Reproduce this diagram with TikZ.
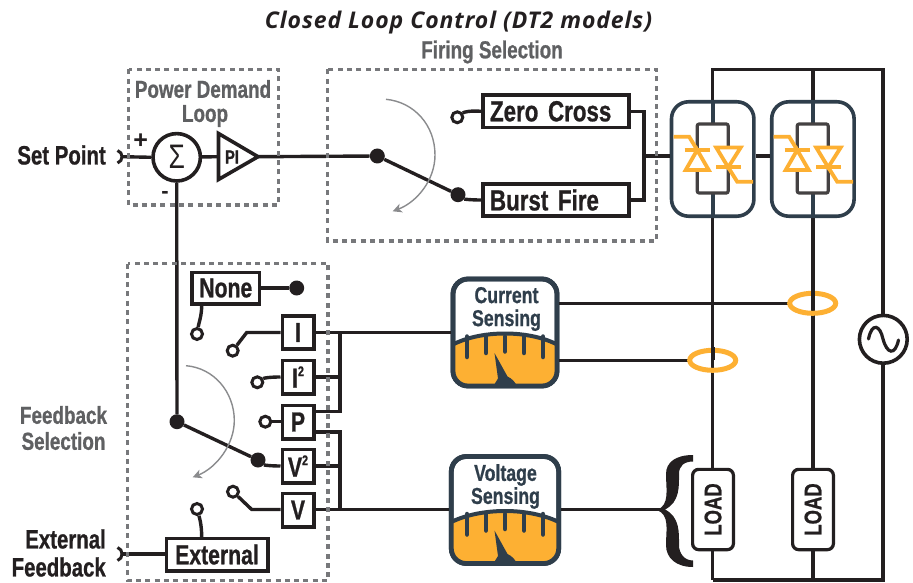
\documentclass[tikz,border=0pt]{standalone}
\usepackage{fontspec}
\usetikzlibrary{arrows.meta}
\setmainfont{Liberation Sans}
\newfontfamily\cond[FakeStretch=0.78,BoldFeatures={FakeStretch=0.77,FakeBold=0.8}]{Liberation Sans}
\newfontfamily\titlefont[LetterSpace=4]{Open Sans}
\definecolor{ink}{HTML}{231F20}
\definecolor{slate}{HTML}{2F3E4B}
\definecolor{amber}{HTML}{FDB033}
\definecolor{dashgray}{HTML}{77787B}
\definecolor{capgray}{HTML}{5F6062}
\definecolor{arcgray}{HTML}{8A8B8D}
\newcommand{\fsz}[1]{\fontsize{#1}{#1}\selectfont}
\newcommand{\meterbody}[4]{% cx cy halfw halfh
\begin{scope}[shift={(#1,#2)}]
\begin{scope}
\clip[rounded corners=15] (-#3,-#4) rectangle (#3,#4);
\fill[amber] (-#3-2,13) .. controls (-25,-3) and (25,-3) .. (#3+2,13) -- (#3+2,#4+2) -- (-#3-2,#4+2) -- cycle;
\draw[slate,line width=4] (-#3-2,13) .. controls (-25,-3) and (25,-3) .. (#3+2,13);
\foreach \tx/\te in {-38/24.5,-19/20.5,0/19,19/20.5,38/24.5} \draw[slate,line width=4.5,line cap=round] (\tx,4) -- (\tx,\te);
\fill[slate] (-10.5,20.5) -- (-7,46) .. controls (-9,49) and (-11,52) .. (-12,56) -- (13,56) .. controls (11,50) and (7,46) .. (2.5,44) -- cycle;
\end{scope}
\draw[slate,line width=4.8,rounded corners=15] (-#3,-#4) rectangle (#3,#4);
\end{scope}}
\tikzset{
 x=1pt,y=-1pt,
 wire/.style={ink,line width=3.4,line join=miter},
 bus/.style={ink,line width=3.8},
 box/.style={draw=ink,line width=3.6,fill=white,inner sep=0pt,text=ink,font=\cond\bfseries\fsz{27.5}},
 termin/.style={circle,draw=ink,line width=3,fill=white,minimum size=11pt,inner sep=0pt},
 dot/.style={circle,fill=ink,minimum size=15pt,inner sep=0pt},
 dashbox/.style={dashgray,line width=3.2,dash pattern=on 5pt off 4.3pt},
 swing/.style={arcgray,line width=1.4,-{Stealth[length=9pt,width=9pt,inset=2.5pt]}},
 caption/.style={text=capgray,font=\cond\bfseries\fsz{24.5},inner sep=0pt,align=center},
 blacktext/.style={text=ink,font=\cond\bfseries\fsz{26.5},inner sep=0pt},
 metertext/.style={text=slate,font=\cond\bfseries\fsz{23},inner sep=0pt,align=center},
 meterframe/.style={draw=slate,line width=4.8,fill=white,rounded corners=15,inner sep=0pt},
 scrframe/.style={draw=slate,line width=3.6,fill=white,rounded corners=17,minimum width=82.4pt,minimum height=114.4pt,inner sep=0pt},
 loadbox/.style={draw=ink,line width=3.2,fill=white,rounded corners=6,minimum width=40.8pt,minimum height=80.3pt,inner sep=0pt},
 triac/.style={amber,line width=3.8,line join=miter},
 ring/.style={amber,line width=5},
}
\begin{document}
\begin{tikzpicture}
\useasboundingbox (0,0) rectangle (913,583);
% title and captions
\node[font=\titlefont\bfseries\itshape\fsz{23},text=ink,inner sep=0pt] (title) at (458.5,23) {Closed Loop Control (DT2 models)};
\node[caption] (capfire) at (492,52) {Firing Selection};
\node[caption] (cappow) at (203,89) {Power Demand};
\node[caption] (caploop) at (205,116) {Loop};
\node[caption] (capfb1) at (63.5,415) {Feedback};
\node[caption] (capfb2) at (63.5,441) {Selection};
\node[blacktext,anchor=east] (setpoint) at (106,155) {Set Point};
\node[blacktext,anchor=east] (extfb1) at (106,539) {External};
\node[blacktext,anchor=east] (extfb2) at (106,567) {Feedback};
% power bus
\coordinate (tl) at (712.5,69.5);
\coordinate (tm) at (812.7,69.5);
\coordinate (tr) at (883.3,69.5);
\coordinate (bl) at (712.5,580);
\coordinate (bm) at (812.7,580);
\coordinate (br) at (883.3,580);
\draw[bus] (bl) -- (tl) -- (tr) -- (br) -- (bl);
\draw[bus] (tm) -- (bm);
% SCR stacks
\node[scrframe] (scra) at (712.7,159) {};
\node[scrframe] (scrb) at (812.9,159) {};
\foreach \c/\n in {712.7/a,812.7/b}{
 \begin{scope}[shift={(\c,0)}]
 \draw[slate,line width=3.6] (0,102) -- (0,124);
 \draw[slate,line width=3.6] (0,193) -- (0,216);
 \draw[ink!85!white,line width=3.2,rounded corners=2] (-15.5,124) rectangle (15.5,193);
 \fill[white] (-15.5,150) -- (-27,170) -- (-4,170) -- cycle;
 \fill[white] (4,147.5) -- (28,147.5) -- (15.5,167) -- cycle;
 \draw[triac] (-39,136.8) -- (-23.5,136.8) -- (-15.5,150);
 \draw[triac] (-28,150) -- (-3,150);
 \draw[triac] (-15.5,150) -- (-27,170) -- (-4,170) -- cycle;
 \draw[triac] (3.5,147.5) -- (28,147.5) -- (15.5,167.3) -- cycle;
 \draw[triac] (3.5,167.3) -- (28,167.3);
 \draw[triac] (15.5,167.3) -- (24.5,181.7) -- (40.5,181.7);
 \end{scope}}
\draw[wire] (scra.east |- 0,156) -- (scrb.west |- 0,156);
% firing selection
\node[box,font=\cond\bfseries\fsz{29},minimum width=146.4pt,minimum height=32.4pt,text width=132pt,align=left] (zero) at (556,111.3) {Zero Cross};
\node[box,font=\cond\bfseries\fsz{29},minimum width=146.4pt,minimum height=32.4pt,text width=132pt,align=left] (burst) at (556,200) {Burst Fire};
\node[termin] (tzero) at (457.3,117.3) {};
\node[dot] (dfire) at (377.3,156) {};
\node[dot] (dburst) at (458,194.7) {};
\draw[wire] (tzero) .. controls (464,112) and (470,110.5) .. (zero.west);
\draw[wire] (dburst) .. controls (464,199) and (470,200) .. (burst.west);
\draw[wire] (dfire) -- (dburst);
\coordinate (fjoin) at (644,156);
\draw[wire] (zero.east) -| (fjoin) |- (burst.east);
\draw[wire] (fjoin) -- (scra.west |- fjoin);
\draw[swing] (386,99.3) .. controls (414,102) and (435,125) .. (435,155) .. controls (435,180) and (417,202) .. (392.7,211.3);
% power demand
\node[circle,draw=ink,line width=3.6,fill=white,minimum size=47.4pt,inner sep=0pt,font=\cond\fsz{34},text=ink] (sum) at (176.7,157.3) {\raisebox{-.5pt}{Σ}};
\coordinate (pitl) at (218.5,133.5);
\coordinate (pibl) at (218.5,179.5);
\coordinate (pitip) at (258,156.7);
\coordinate (piin) at (218.5,156.7);
\draw[wire] (sum) -- (piin);
\fill[white] (pitl) -- (pitip) -- (pibl) -- cycle;
\draw[ink,line width=3.6,line join=miter] (pitl) -- (pitip) -- (pibl) -- cycle;
\node[font=\cond\bfseries\fsz{19},text=ink,inner sep=0pt] (pilab) at (232,157) {PI};
\draw[wire] (pitip) -- (dfire);
\coordinate (spin) at (122,156.7);
\draw[wire] (spin) -- (sum.west);
\draw[ink,line width=3] (117.5,150.5) .. controls (120.5,151.5) and (122,154) .. (122,156.7) .. controls (122,159.5) and (120.5,162) .. (117.5,163);
\node[font=\bfseries\fsz{25},text=ink,inner sep=0pt] (plus) at (140.7,141.5) {+};
\node[font=\bfseries\fsz{22},text=ink,inner sep=0pt] (minus) at (165,195) {-};
% feedback switch
\node[box,minimum width=67.4pt,minimum height=31.4pt] (none) at (225.8,288) {None};
\node[dot] (dnone) at (296.7,288) {};
\draw[wire] (none.east) -- (dnone);
\node[termin] (tnone) at (197,334) {};
\draw[wire] (201.7,305) .. controls (201.7,316) and (199,322) .. (tnone);
\node[box,minimum width=31.4pt,minimum height=33.4pt] (bi) at (298,332.5) {I};
\node[box,minimum width=31.4pt,minimum height=33.4pt] (bii) at (298,377) {I\raisebox{.42em}{\fsz{14}2}};
\node[box,minimum width=31.4pt,minimum height=33.4pt] (bp) at (298,422) {P};
\node[box,minimum width=31.4pt,minimum height=33.4pt] (bvv) at (298,466) {V\raisebox{.42em}{\fsz{14}2}};
\node[box,minimum width=31.4pt,minimum height=33.4pt] (bv) at (298,510) {V};
\node[box,minimum width=101.4pt,minimum height=32.4pt] (ext) at (217,554.5) {External};
\node[termin] (ti) at (232.7,350.7) {};
\node[termin] (tii) at (257.3,382.3) {};
\node[termin] (tp) at (265.3,421.7) {};
\node[termin] (tv) at (233,491.7) {};
\node[termin] (text) at (197,509) {};
\node[dot] (djoin) at (177,421.7) {};
\node[dot] (dvv) at (258,460) {};
\draw[wire] (ti) -- (246.7,332.5) -- (bi.west);
\draw[wire] (tii) .. controls (264,378) and (270,377) .. (bii.west);
\draw[wire] (tp) -- (bp.west |- tp);
\draw[wire] (dvv) .. controls (264,465) and (270,466) .. (bvv.west);
\draw[wire] (tv) -- (251.7,509.5) -- (bv.west |- 0,509.5);
\draw[wire] (text) .. controls (199,516) and (201.7,524) .. (201.7,537);
\draw[wire] (sum.south) -- (djoin);
\draw[wire] (djoin) -- (dvv);
\draw[swing] (186,365.7) .. controls (214,368) and (234,392) .. (234.3,420) .. controls (234.5,445) and (216,468) .. (192.7,477.3);
\coordinate (extin) at (122,554);
\draw[wire] (extin) -- (ext.west |- extin);
\draw[ink,line width=3] (117.5,547.5) .. controls (120.5,548.5) and (122,551) .. (122,554) .. controls (122,557) and (120.5,559.5) .. (117.5,560.5);
% meters
\node[meterframe,minimum width=104pt,minimum height=107pt] (cur) at (505,332.5) {};
\meterbody{505}{332.5}{52}{53.5}
\node[metertext] (curt) at (506.5,309) {\baselineskip=20.5pt Current\\Sensing};
\node[meterframe,minimum width=107.4pt,minimum height=107pt] (vol) at (505,510) {};
\meterbody{505}{510}{53.7}{53.5}
\node[metertext] (volt) at (505.5,486.5) {\baselineskip=20.5pt Voltage\\Sensing};
% bus wires to meters
\coordinate (busi) at (340,332.5);
\coordinate (busib) at (340,411.7);
\coordinate (busv) at (340,509.5);
\coordinate (busvt) at (340,432);
\draw[wire] (bi.east) -- (cur.west |- bi.east);
\draw[wire] (bii.east) -- (bii.east -| busi);
\draw[wire] (busi) -- (busib) -- (busib -| bp.east);
\draw[wire] (bp.east |- busvt) -- (busvt) -- (busv);
\draw[wire] (bvv.east) -- (bvv.east -| busv);
\draw[wire] (bv.east |- busv) -- (vol.west |- busv);
% current sense rings
\node[draw=none,inner sep=0pt] (ringb) at (812.7,303.3) {};
\node[draw=none,inner sep=0pt] (ringa) at (712.7,360.3) {};
\draw[wire] (cur.east |- ringb) -- (790,303.3);
\draw[wire] (cur.east |- ringa) -- (690,360.3);
\draw[ring] (ringb) ellipse [x radius=23,y radius=10];
\draw[ring] (ringa) ellipse [x radius=23,y radius=10];
\draw[bus] (812.7,290) -- (ringb);
\draw[bus] (712.7,347) -- (ringa);
% source
\node[circle,draw=ink,line width=3.6,fill=white,minimum size=47.8pt,inner sep=0pt] (src) at (883.3,339.3) {};
\draw[ink,line width=3.2,line cap=round] (868.5,339) .. controls (872,322) and (880,325) .. (883,339) .. controls (887,354) and (895,356) .. (898.5,340);
% loads
\node[loadbox] (la) at (713,509.5) {};
\node[loadbox] (lb) at (813,509.5) {};
\node[rotate=90,font=\cond\bfseries\fsz{24},text=ink,inner sep=0pt] (lat) at (713,509.5) {LOAD};
\node[rotate=90,font=\cond\bfseries\fsz{24},text=ink,inner sep=0pt] (lbt) at (813,509.5) {LOAD};
% brace
\coordinate (brtip) at (660,509.5);
\draw[wire] (vol.east |- brtip) -- (brtip);
\fill[ink] (693,455) -- (693,461.5) .. controls (684,461.5) and (679,466) .. (679,474) .. controls (679,486) and (680,502) .. (665,509.5) .. controls (680,517) and (679,533) .. (679,545) .. controls (679,553) and (684,560.5) .. (693,560.5) -- (693,567) .. controls (676,567) and (666,558) .. (666,545) .. controls (666,530) and (670,515) .. (657,510) .. controls (670,505) and (666,489) .. (666,474) .. controls (666,462) and (676,455) .. (693,455) -- cycle;
% dashed frames
\draw[dashbox] (128.5,69.5) rectangle (278.5,205);
\draw[dashbox] (327.5,69.5) rectangle (656.5,241);
\draw[dashbox] (127.5,263.5) rectangle (328,580.5);
\end{tikzpicture}
\end{document}
